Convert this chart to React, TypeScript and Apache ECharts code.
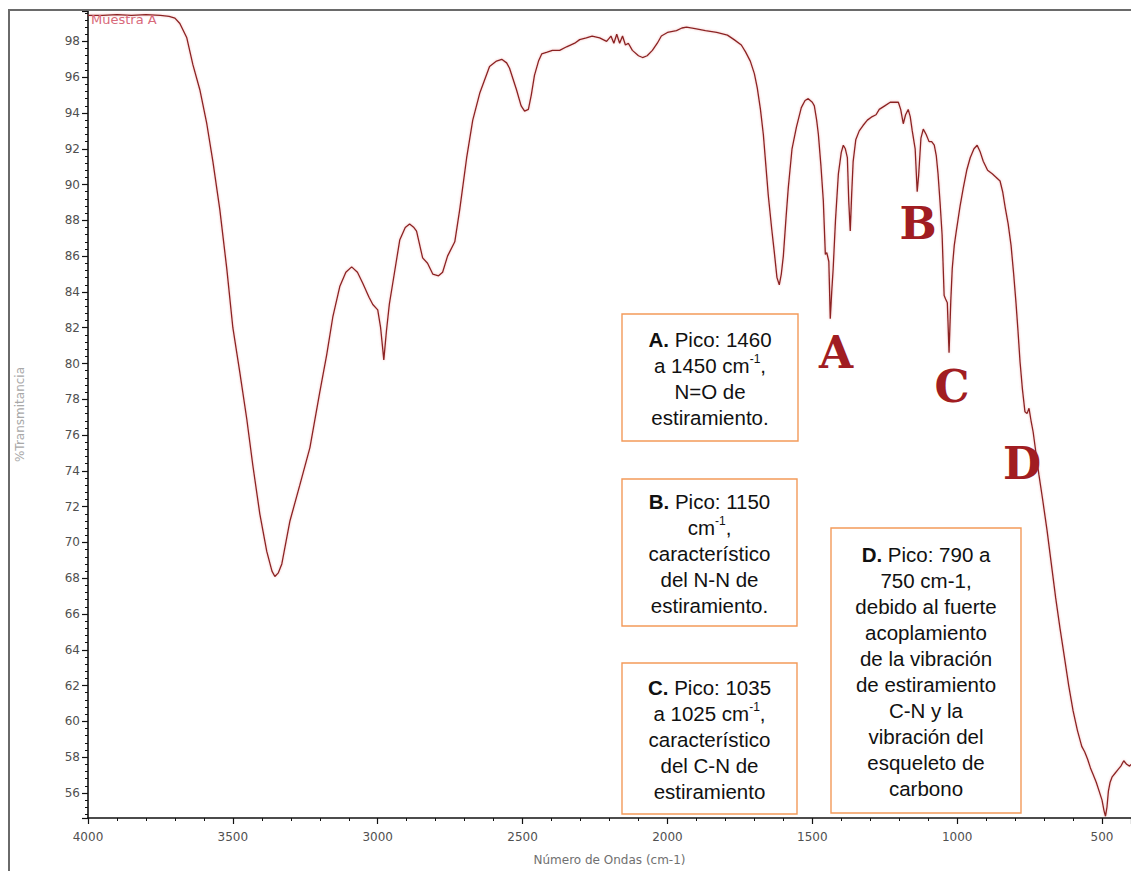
import React, { useEffect, useRef } from "react";
import * as echarts from "echarts";

// IR spectrum of "Muestra A": wavenumber (cm-1) and % transmittance
const wavenumbers = [
  4000, 3950, 3900, 3850, 3800, 3750, 3720, 3700, 3683, 3659, 3638, 3614, 3590, 3569, 3545, 3521,
  3500, 3476, 3452, 3431, 3407, 3383, 3365, 3355, 3343, 3331, 3303, 3269, 3234, 3200, 3176, 3155,
  3131, 3110, 3090, 3070, 3052, 3030, 3017, 3000, 2990, 2979, 2970, 2960, 2948, 2924, 2905, 2890,
  2875, 2866, 2845, 2828, 2810, 2790, 2776, 2759, 2734, 2717, 2693, 2672, 2648, 2614, 2590, 2572,
  2555, 2545, 2521, 2505, 2493, 2480, 2470, 2459, 2445, 2434, 2415, 2397, 2372, 2348, 2320, 2303,
  2280, 2260, 2234, 2210, 2195, 2185, 2175, 2165, 2155, 2145, 2135, 2121, 2100, 2086, 2070, 2052,
  2035, 2021, 2000, 1969, 1950, 1934, 1900, 1869, 1830, 1793, 1770, 1745, 1730, 1714, 1700, 1690,
  1679, 1669, 1660, 1652, 1640, 1631, 1622, 1614, 1607, 1600, 1590, 1583, 1570, 1555, 1538, 1525,
  1514, 1500, 1493, 1485, 1479, 1470, 1462, 1455, 1450, 1443, 1438, 1433, 1428, 1420, 1410, 1400,
  1393, 1386, 1379, 1374, 1369, 1364, 1359, 1350, 1338, 1325, 1310, 1293, 1280, 1269, 1250, 1231,
  1215, 1203, 1195, 1186, 1178, 1169, 1162, 1155, 1145, 1138, 1133, 1125, 1117, 1107, 1097, 1088,
  1079, 1072, 1066, 1059, 1052, 1045, 1040, 1034, 1028, 1022, 1017, 1010, 1003, 990, 979, 967,
  955, 942, 931, 920, 910, 895, 879, 865, 852, 843, 834, 824, 814, 805, 797, 790,
  783, 775, 766, 759, 752, 745, 738, 728, 718, 705, 690, 675, 660, 645, 630, 615,
  600, 585, 570, 560, 550, 540, 530, 520, 510, 500, 493, 488, 483, 478, 472, 465,
  455, 445, 435, 425, 415, 405, 400,
];
const transmittance = [
  99.45, 99.45, 99.5, 99.45, 99.5, 99.45, 99.4, 99.3, 99.0, 98.2, 96.7, 95.3, 93.4, 91.3, 88.6, 85.3,
  82.0, 79.5, 76.9, 74.3, 71.6, 69.5, 68.4, 68.1, 68.3, 68.8, 71.2, 73.2, 75.3, 78.4, 80.5, 82.6,
  84.3, 85.1, 85.4, 85.1, 84.5, 83.7, 83.3, 83.0, 82.0, 80.2, 81.8, 83.3, 84.5, 86.9, 87.6, 87.8,
  87.6, 87.4, 85.9, 85.6, 85.0, 84.9, 85.1, 86.0, 86.8, 88.6, 91.5, 93.6, 95.1, 96.6, 96.9, 97.0,
  96.8, 96.5, 95.3, 94.4, 94.1, 94.2, 95.0, 96.1, 96.9, 97.3, 97.4, 97.5, 97.5, 97.7, 97.9, 98.1,
  98.2, 98.3, 98.2, 98.0, 98.3, 97.9, 98.4, 97.9, 98.3, 97.8, 97.9, 97.5, 97.2, 97.1, 97.2, 97.5,
  97.9, 98.3, 98.5, 98.6, 98.75, 98.8, 98.7, 98.6, 98.5, 98.35, 98.1, 97.8, 97.4, 96.9, 96.2, 95.4,
  94.2, 92.8, 91.0, 89.4, 87.5, 86.2, 84.8, 84.4, 85.0, 86.0, 88.3, 89.8, 92.0, 93.2, 94.3, 94.7,
  94.8, 94.6, 94.4, 93.6, 92.8, 91.0, 89.1, 86.1, 86.2, 85.7, 82.5, 84.0, 85.3, 88.0, 90.6, 91.8,
  92.2, 92.0, 91.5, 89.0, 87.4, 89.5, 91.3, 92.5, 93.0, 93.3, 93.6, 93.8, 93.9, 94.2, 94.4, 94.6,
  94.6, 94.6, 94.2, 93.4, 93.9, 94.2, 93.8, 93.0, 92.0, 89.6, 90.5, 92.6, 93.1, 92.8, 92.4, 92.4,
  92.2, 91.6, 90.6, 89.0, 87.2, 83.8, 83.6, 83.4, 80.6, 83.5, 85.3, 86.6, 87.4, 88.8, 89.8, 90.8,
  91.5, 92.0, 92.2, 91.8, 91.3, 90.8, 90.6, 90.4, 90.2, 89.6, 88.7, 87.8, 86.6, 85.0, 83.4, 81.8,
  80.1, 78.6, 77.3, 77.2, 77.5, 76.8, 76.2, 75.0, 73.8, 72.4, 70.7, 68.8, 66.9, 65.2, 63.6, 62.0,
  60.6, 59.5, 58.6, 58.3, 57.9, 57.4, 57.0, 56.6, 56.1, 55.6, 55.0, 54.7, 55.2, 56.1, 56.6, 56.9,
  57.1, 57.3, 57.5, 57.8, 57.6, 57.5, 57.6,
];

const seriesName = "Muestra A";
const xAxisTitle = "Número de Ondas (cm-1)";
const yAxisTitle = "%Transmitancia";
const xTickStep = 500;
const yTickStep = 2;

// Peak letters and their explanatory notes
const peakLetters = ["A", "B", "C", "D"];
const noteLines = [
  ["{b|A.} Pico: 1460", "a 1450 cm{s|-1},", "N=O de", "estiramiento."],
  ["{b|B.} Pico: 1150", "cm{s|-1},", "característico", "del N-N de", "estiramiento."],
  ["{b|C.} Pico: 1035", "a 1025 cm{s|-1},", "característico", "del C-N de", "estiramiento"],
  [
    "{b|D.} Pico: 790 a",
    "750 cm-1,",
    "debido al fuerte",
    "acoplamiento",
    "de la vibración",
    "de estiramiento",
    "C-N y la",
    "vibración del",
    "esqueleto de",
    "carbono",
  ],
];

// Layout (pixels)
const W = 1131;
const H = 871;
const letterPos = [
  [836, 352],
  [918, 223],
  [952, 386],
  [1022, 463],
];
const noteBoxes = [
  [622, 314, 176, 127],
  [622, 479, 175, 147],
  [622, 663, 175, 151],
  [831, 528, 190, 285],
];

const FONT_SANS = '"Liberation Sans", Arial, sans-serif';
const FONT_AXIS = '"DejaVu Sans", sans-serif';

export default function App() {
  const ref = useRef<HTMLDivElement>(null);

  useEffect(() => {
    if (!ref.current) return;
    const chart = echarts.init(ref.current, null, { renderer: "svg" });

    const graphics: any[] = [
      // outer frame
      { type: "line", shape: { x1: 8, y1: 10, x2: W, y2: 10 }, style: { stroke: "#6a6a6a", lineWidth: 2 }, z: 10 },
      { type: "line", shape: { x1: 9, y1: 10, x2: 9, y2: H }, style: { stroke: "#6a6a6a", lineWidth: 2 }, z: 10 },
      {
        type: "text",
        x: 91,
        y: 19,
        style: {
          text: seriesName,
          fontSize: 13,
          fontFamily: FONT_AXIS,
          fill: "#d8697a",
          verticalAlign: "middle",
        },
        z: 10,
      },
    ];

    peakLetters.forEach((letter, i) => {
      graphics.push({
        type: "text",
        x: letterPos[i][0],
        y: letterPos[i][1],
        style: {
          text: letter,
          fontSize: 44,
          fontWeight: "bold",
          fontFamily: '"DejaVu Serif", serif',
          fill: "#a11d22",
          align: "center",
          verticalAlign: "middle",
          shadowBlur: 3,
          shadowColor: "rgba(170,30,30,0.35)",
        },
        z: 12,
      });
    });

    noteLines.forEach((lines, i) => {
      const [x, y, w, h] = noteBoxes[i];
      graphics.push({
        type: "rect",
        shape: { x, y, width: w, height: h },
        style: { fill: "#ffffff", stroke: "#f39a5a", lineWidth: 1.4 },
        z: 11,
      });
      graphics.push({
        type: "text",
        x: x + w / 2,
        y: y + h / 2 + 1,
        style: {
          text: lines.join("\n"),
          fontSize: 20.5,
          fontFamily: FONT_SANS,
          fill: "#111111",
          align: "center",
          verticalAlign: "middle",
          lineHeight: 26,
          rich: {
            b: { fontSize: 20.5, fontWeight: "bold", fontFamily: FONT_SANS, fill: "#111111", lineHeight: 26 },
            s: { fontSize: 12, fontFamily: FONT_SANS, fill: "#111111", lineHeight: 14, verticalAlign: "top" },
          },
        },
        z: 12,
      });
    });

    chart.setOption({
      animation: false,
      backgroundColor: "#ffffff",
      grid: { left: 88, right: 0, top: 11, bottom: H - 822, containLabel: false },
      xAxis: {
        type: "value",
        inverse: true,
        min: 400,
        max: 4000,
        splitNumber: 7,
        minInterval: xTickStep,
        maxInterval: xTickStep,
        name: xAxisTitle,
        nameLocation: "middle",
        nameGap: 36,
        nameTextStyle: { fontSize: 12, fontFamily: FONT_AXIS, color: "#707070" },
        axisLine: { onZero: false, lineStyle: { color: "#111", width: 1.6 } },
        axisTick: { length: 6, lineStyle: { color: "#111", width: 1.2 } },
        minorTick: { show: true, splitNumber: 5, length: 3, lineStyle: { color: "#111", width: 1 } },
        axisLabel: {
          margin: 13,
          fontSize: 12,
          fontFamily: FONT_AXIS,
          color: "#505050",
          showMinLabel: false,
          formatter: (v: number) => (v % xTickStep === 0 ? String(v) : ""),
        },
        splitLine: { show: false },
      },
      yAxis: {
        type: "value",
        min: 54.6,
        max: 99.7,
        splitNumber: 22,
        minInterval: yTickStep,
        maxInterval: yTickStep,
        name: yAxisTitle,
        nameLocation: "middle",
        nameGap: 62,
        nameTextStyle: { fontSize: 12, fontFamily: FONT_AXIS, color: "#a8a8a8" },
        axisLine: { show: true, onZero: false, lineStyle: { color: "#111", width: 1.6 } },
        axisTick: { show: true, length: 6, lineStyle: { color: "#111", width: 1.2 } },
        minorTick: { show: true, splitNumber: 5, length: 3, lineStyle: { color: "#111", width: 1 } },
        axisLabel: {
          margin: 8,
          fontSize: 12,
          fontFamily: FONT_AXIS,
          color: "#505050",
          formatter: (v: number) => (Number.isInteger(v) && v % yTickStep === 0 ? String(v) : ""),
        },
        splitLine: { show: false },
      },
      series: [
        {
          name: seriesName,
          type: "line",
          data: wavenumbers.map((w, i) => [w, transmittance[i]]),
          showSymbol: false,
          symbol: "none",
          lineStyle: {
            color: "#8b2424",
            width: 1.3,
            shadowBlur: 2,
            shadowColor: "rgba(220,90,90,0.45)",
          },
          z: 5,
        },
      ],
      graphic: graphics,
    });

    return () => chart.dispose();
  }, []);

  return (
    <div
      ref={ref}
      style={{ position: "fixed", left: 0, top: 0, width: W, height: H, background: "#fff" }}
    />
  );
}
